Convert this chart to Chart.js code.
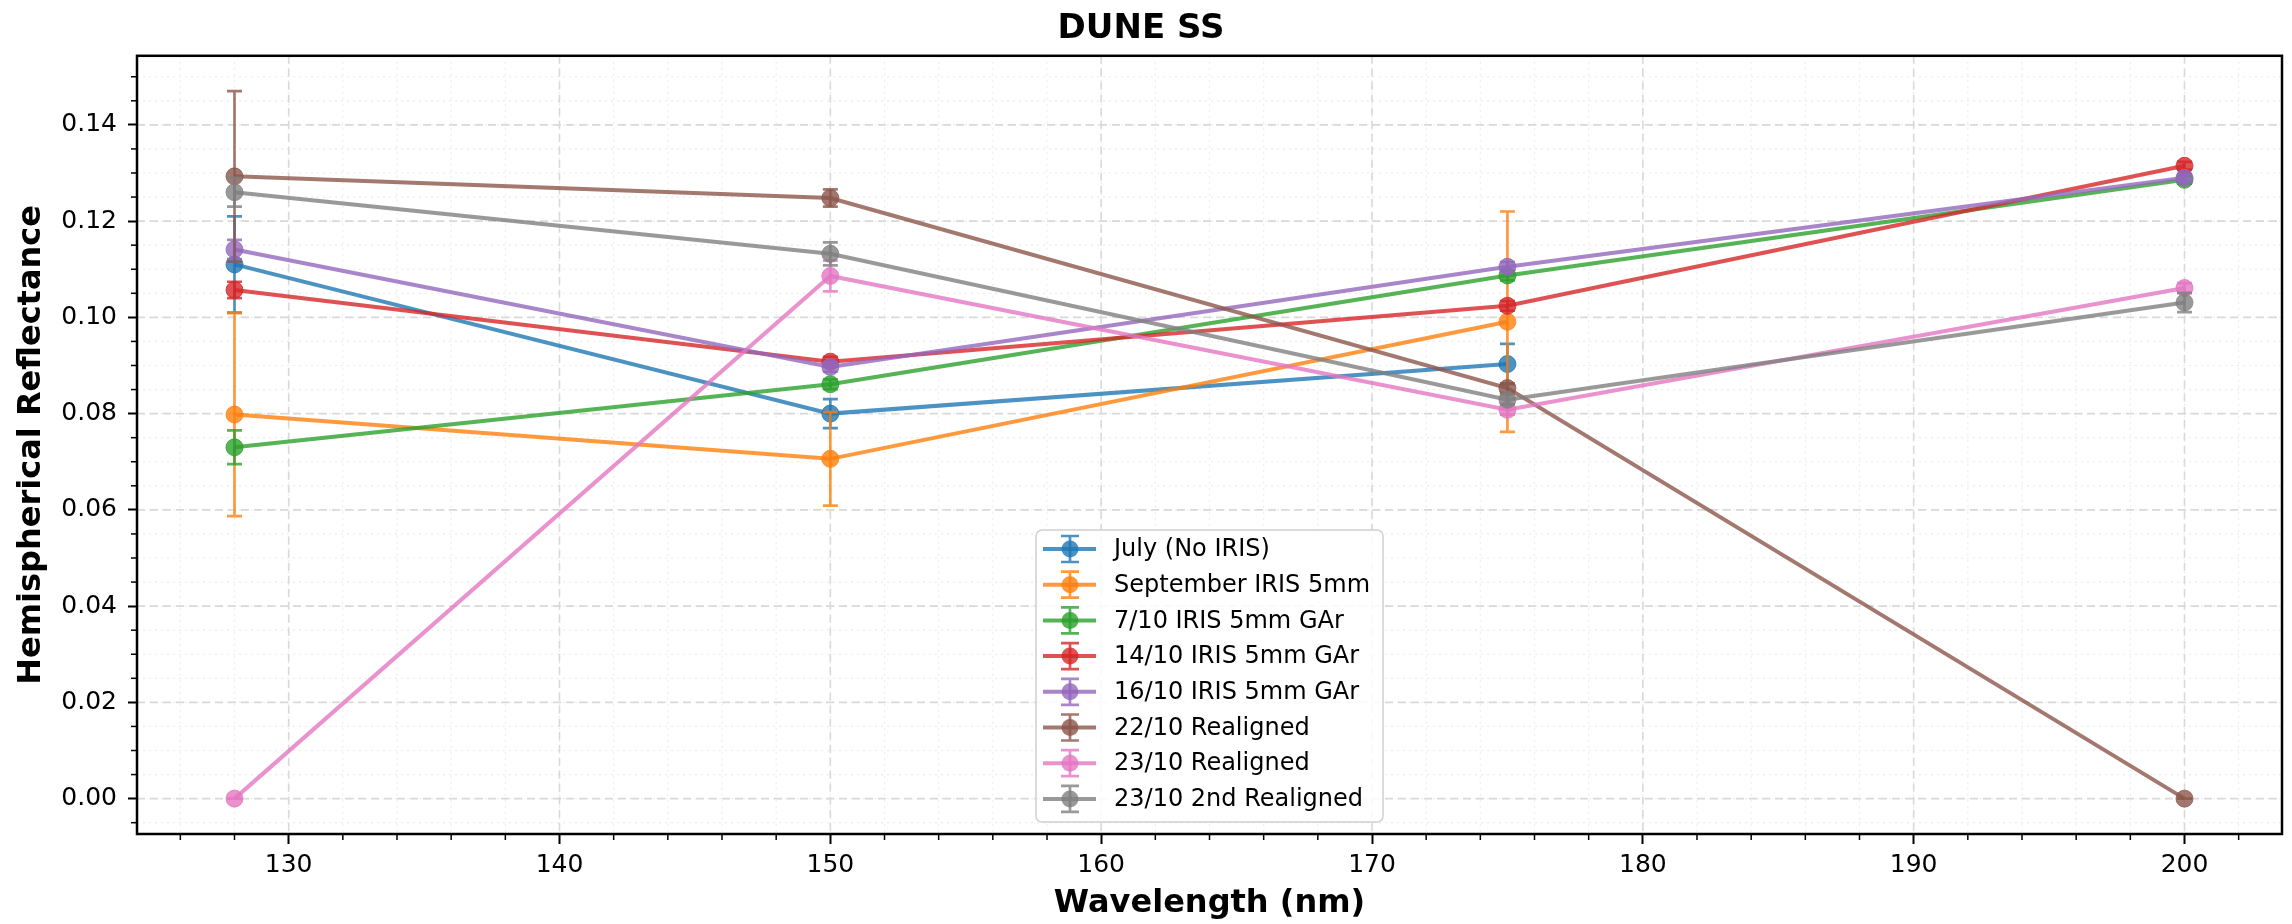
<!DOCTYPE html>
<html>
<head>
<meta charset="utf-8">
<script src="https://cdn.jsdelivr.net/npm/chart.js@4.4.0/dist/chart.umd.min.js"></script>
<style>
  html, body { margin: 0; padding: 0; background: #fff; }
</style>
</head>
<body>
<canvas id="chart-dune" width="2292" height="924"></canvas>
<script>
// wavelengths (nm) measured
const wavelengths = [128, 150, 175, 200];

// reflectance per run, and its error
const july = [0.1110, 0.0800, 0.0903];
const julyErr = [0.0100, 0.0030, 0.0042];
const september = [0.0798, 0.0706, 0.0991];
const septemberErr = [0.0211, 0.0097, 0.0229];
const oct7 = [0.0730, 0.0861, 0.1087, 0.1286];
const oct7Err = [0.0035, 0.0010, 0.0010, 0.0008];
const oct14 = [0.1057, 0.0908, 0.1024, 0.1315];
const oct14Err = [0.0017, 0.0010, 0.0010, 0.0008];
const oct16 = [0.1141, 0.0897, 0.1105, 0.1290];
const oct16Err = [0.0020, 0.0010, 0.0010, 0.0008];
const oct22 = [0.1293, 0.1248, 0.0853, 0.0000];
const oct22Err = [0.0177, 0.0018, 0.0010, 0.0000];
const oct23 = [0.0000, 0.1086, 0.0808, 0.1061];
const oct23Err = [0.0000, 0.0032, 0.0010, 0.0010];
const oct23b = [0.1260, 0.1132, 0.0829, 0.1031];
const oct23bErr = [0.0030, 0.0024, 0.0010, 0.0020];

const seriesNames = [
  'July (No IRIS)',
  'September IRIS 5mm',
  '7/10 IRIS 5mm GAr',
  '14/10 IRIS 5mm GAr',
  '16/10 IRIS 5mm GAr',
  '22/10 Realigned',
  '23/10 Realigned',
  '23/10 2nd Realigned'
];
const seriesValues = [july, september, oct7, oct14, oct16, oct22, oct23, oct23b];
const seriesErrors = [julyErr, septemberErr, oct7Err, oct14Err, oct16Err, oct22Err, oct23Err, oct23bErr];
const seriesColors = ['#1f77b4', '#ff7f0e', '#2ca02c', '#d62728', '#9467bd', '#8c564b', '#e377c2', '#7f7f7f'];

const xTicks = [130, 140, 150, 160, 170, 180, 190, 200];
const yTicks = [0.00, 0.02, 0.04, 0.06, 0.08, 0.10, 0.12, 0.14];

const FONT = 'DejaVu Sans';

function alpha(hex, a) {
  const n = parseInt(hex.slice(1), 16);
  return 'rgba(' + (n >> 16) + ',' + ((n >> 8) & 255) + ',' + (n & 255) + ',' + a + ')';
}

// rejilla mayor (discontinua) y menor (punteada)
const gridPlugin = {
  id: 'grid',
  beforeDatasetsDraw(chart) {
    const { ctx, chartArea: a, scales: { x, y } } = chart;
    ctx.save();
    ctx.beginPath();
    ctx.rect(a.left, a.top, a.right - a.left, a.bottom - a.top);
    ctx.clip();

    ctx.strokeStyle = '#ececec';
    ctx.lineWidth = 1.2;
    ctx.setLineDash([2, 4]);
    for (let v = 126; v <= 202; v += 2) {
      const px = x.getPixelForValue(v);
      ctx.beginPath(); ctx.moveTo(px, a.top); ctx.lineTo(px, a.bottom); ctx.stroke();
    }
    for (let k = -1; k <= 30; k++) {
      const py = y.getPixelForValue(k * 0.005);
      ctx.beginPath(); ctx.moveTo(a.left, py); ctx.lineTo(a.right, py); ctx.stroke();
    }

    ctx.strokeStyle = '#d9d9d9';
    ctx.lineWidth = 1.6;
    ctx.setLineDash([8, 5]);
    xTicks.forEach(v => {
      const px = x.getPixelForValue(v);
      ctx.beginPath(); ctx.moveTo(px, a.top); ctx.lineTo(px, a.bottom); ctx.stroke();
    });
    yTicks.forEach(v => {
      const py = y.getPixelForValue(v);
      ctx.beginPath(); ctx.moveTo(a.left, py); ctx.lineTo(a.right, py); ctx.stroke();
    });
    ctx.restore();
  }
};

// barras de error, dibujadas con cada serie
const errorBarPlugin = {
  id: 'errorBars',
  afterDatasetDraw(chart, args) {
    const i = args.index;
    const { ctx, scales: { x, y } } = chart;
    const vals = seriesValues[i];
    const errs = seriesErrors[i];
    ctx.save();
    ctx.strokeStyle = alpha(seriesColors[i], 0.8);
    ctx.lineWidth = 2.7;
    vals.forEach((v, j) => {
      const px = x.getPixelForValue(wavelengths[j]);
      const top = y.getPixelForValue(v + errs[j]);
      const bot = y.getPixelForValue(v - errs[j]);
      ctx.beginPath();
      ctx.moveTo(px, top); ctx.lineTo(px, bot);
      ctx.moveTo(px - 7.5, top); ctx.lineTo(px + 7.5, top);
      ctx.moveTo(px - 7.5, bot); ctx.lineTo(px + 7.5, bot);
      ctx.stroke();
    });
    ctx.restore();
  }
};

const framePlugin = {
  id: 'frame',
  afterDatasetsDraw(chart) {
    const { ctx, chartArea: a, scales: { x, y } } = chart;
    ctx.save();
    ctx.strokeStyle = '#000';
    ctx.lineWidth = 2.5;
    ctx.strokeRect(a.left, a.top, a.right - a.left, a.bottom - a.top);
    // ticks menores
    ctx.lineWidth = 1.5;
    for (let v = 126; v <= 202; v += 2) {
      if (v % 10 === 0) continue;
      const px = x.getPixelForValue(v);
      ctx.beginPath(); ctx.moveTo(px, a.bottom); ctx.lineTo(px, a.bottom + 6); ctx.stroke();
    }
    for (let k = -1; k <= 30; k++) {
      if (k % 4 === 0) continue;
      const py = y.getPixelForValue(k * 0.005);
      if (py < a.top || py > a.bottom) continue;
      ctx.beginPath(); ctx.moveTo(a.left - 6, py); ctx.lineTo(a.left, py); ctx.stroke();
    }
    ctx.restore();
  }
};

const legendPlugin = {
  id: 'boxLegend',
  afterDraw(chart) {
    const { ctx } = chart;
    const bx = 1036, by = 530, bw = 347, bh = 292;
    ctx.save();
    ctx.beginPath();
    ctx.roundRect(bx, by, bw, bh, 6);
    ctx.fillStyle = 'rgba(255,255,255,0.85)';
    ctx.fill();
    ctx.strokeStyle = '#d0d0d0';
    ctx.lineWidth = 1.5;
    ctx.stroke();
    ctx.font = '24px "' + FONT + '"';
    ctx.textBaseline = 'middle';
    ctx.textAlign = 'left';
    seriesNames.forEach((name, k) => {
      const cy = 549 + k * 35.7;
      const c = alpha(seriesColors[k], 0.8);
      ctx.strokeStyle = c;
      ctx.lineWidth = 4;
      ctx.beginPath(); ctx.moveTo(1043, cy); ctx.lineTo(1096, cy); ctx.stroke();
      ctx.lineWidth = 2.7;
      ctx.beginPath();
      ctx.moveTo(1070, cy - 13); ctx.lineTo(1070, cy + 13);
      ctx.moveTo(1061, cy - 13); ctx.lineTo(1079, cy - 13);
      ctx.moveTo(1061, cy + 13); ctx.lineTo(1079, cy + 13);
      ctx.stroke();
      ctx.fillStyle = c;
      ctx.beginPath(); ctx.arc(1070, cy, 8.5, 0, Math.PI * 2); ctx.fill();
      ctx.fillStyle = '#000';
      ctx.fillText(name, 1114, cy + 1);
    });
    ctx.restore();
  }
};

const datasets = seriesNames.map((name, i) => ({
  label: name,
  data: seriesValues[i].map((v, j) => ({ x: wavelengths[j], y: v })),
  borderColor: alpha(seriesColors[i], 0.8),
  backgroundColor: alpha(seriesColors[i], 0.8),
  pointBackgroundColor: alpha(seriesColors[i], 0.8),
  pointBorderColor: alpha(seriesColors[i], 0.8),
  borderWidth: 4,
  pointRadius: 8.5,
  pointBorderWidth: 1,
  tension: 0,
  fill: false,
  order: seriesNames.length - i
}));

new Chart(document.getElementById('chart-dune'), {
  type: 'line',
  data: { datasets: datasets },
  plugins: [gridPlugin, errorBarPlugin, framePlugin, legendPlugin],
  options: {
    responsive: false,
    devicePixelRatio: 1,
    animation: false,
    layout: { padding: { left: 0, right: 10, top: 0, bottom: 0 } },
    plugins: {
      legend: { display: false },
      tooltip: { enabled: false },
      title: {
        display: true,
        text: 'DUNE SS',
        color: '#000',
        font: { family: FONT, size: 34, weight: 'bold' },
        padding: { top: 9, bottom: 6 }
      }
    },
    scales: {
      x: {
        type: 'linear',
        min: 124.4,
        max: 203.6,
        afterBuildTicks: s => { s.ticks = xTicks.map(v => ({ value: v })); },
        afterFit: s => { s.height = 90; },
        ticks: {
          color: '#000',
          font: { family: FONT, size: 25 },
          padding: 6,
          maxRotation: 0,
          autoSkip: false,
          callback: v => String(v)
        },
        grid: { drawOnChartArea: false, drawTicks: true, tickLength: 10, tickWidth: 2, tickColor: '#000' },
        border: { display: false },
        title: {
          display: true,
          text: 'Wavelength (nm)',
          color: '#000',
          font: { family: FONT, size: 32, weight: 'bold' },
          padding: { top: 0, bottom: 1 }
        }
      },
      y: {
        type: 'linear',
        min: -0.00735,
        max: 0.15435,
        afterBuildTicks: s => { s.ticks = yTicks.map(v => ({ value: v })); },
        afterFit: s => { s.width = 137; },
        ticks: {
          color: '#000',
          font: { family: FONT, size: 25 },
          padding: 11,
          autoSkip: false,
          callback: v => v.toFixed(2)
        },
        grid: { drawOnChartArea: false, drawTicks: true, tickLength: 9, tickWidth: 2, tickColor: '#000' },
        border: { display: false },
        title: {
          display: true,
          text: 'Hemispherical Reflectance',
          color: '#000',
          font: { family: FONT, size: 32, weight: 'bold' },
          padding: { top: 12, bottom: 0 }
        }
      }
    }
  }
});
</script>
</body>
</html>
